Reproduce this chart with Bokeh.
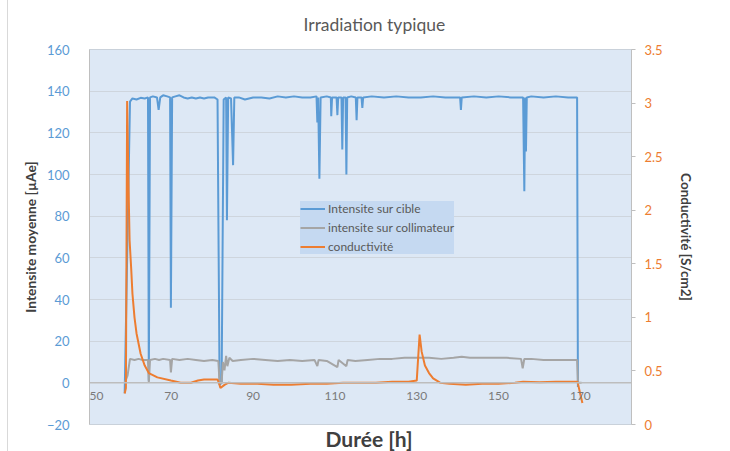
from bokeh.plotting import figure
from bokeh.models import (Range1d, LinearAxis, FixedTicker, Span, Legend, LegendItem,
                          Label, Title)
from bokeh.embed import file_html
from bokeh.resources import INLINE

# ---------------- data ----------------
title_text = "Irradiation typique"
x_label = "Durée [h]"
y_left_label = "Intensite moyenne [µAe]"
y_right_label = "Conductivité [S/cm2]"

x_ticks = [50, 70, 90, 110, 130, 150, 170]
y_left_ticks = [-20, 0, 20, 40, 60, 80, 100, 120, 140, 160]
y_right_ticks = [0, 0.5, 1, 1.5, 2, 2.5, 3, 3.5]
y_right_tick_labels = ["0", "0.5", "1", "1.5", "2", "2.5", "3", "3.5"]

# Intensite sur cible
cible_t = [58.6, 59.9, 60.5, 61.5, 62.5, 63.5, 64.3, 64.5, 64.8, 65.5, 66.5, 66.9, 67.3, 68.0,
           69.0, 69.7, 69.9, 70.2, 71.0, 72.0, 73.0, 74.0, 75.0, 76.0, 77.0, 78.0, 79.0, 80.5,
           81.3, 81.8, 82.3, 82.8, 83.4, 83.6, 83.9, 84.6, 85.1, 85.4, 86.5, 88.0, 90.0, 92.0,
           94.0, 96.0, 98.0, 100.0, 102.0, 104.0, 105.5, 105.7, 105.9, 106.2, 106.5, 108.0,
           109.0, 109.1, 109.3, 110.4, 110.6, 110.8, 111.6, 111.8, 112.0, 112.6, 112.8, 113.0,
           114.0, 115.1, 115.3, 115.5, 116.5, 116.7, 116.9, 119.0, 122.0, 125.0, 128.0, 131.0,
           134.0, 137.0, 140.6, 140.8, 141.0, 144.0, 147.0, 150.0, 153.0, 156.0, 156.3, 156.5,
           156.7, 156.9, 158.0, 161.0, 164.0, 167.0, 169.2, 169.4]
cible_v = [-5, 135, 136.5, 136, 136.8, 136.5, 137, 1, 137, 137.5, 137, 131, 137, 138,
           137.5, 137, 36, 137, 137.5, 138, 137, 136.5, 137, 136.5, 137, 136.5, 137, 137,
           136, -1, 0, 136, 137, 78, 137, 136.5, 104.5, 137, 137, 136, 137, 137,
           136.5, 137.5, 137, 137.5, 137, 137, 137.5, 125, 137, 98, 137, 137.5,
           137, 128, 137, 137, 128.5, 137, 137, 112, 137, 137, 100, 137,
           137.5, 137, 126, 137, 137, 132, 137, 137.5, 137, 137.5, 137, 137,
           137.5, 137, 137, 131, 137, 137.5, 137, 137.5, 137, 137, 92, 137,
           111, 137, 137.5, 137, 137.5, 137, 137, -2]

# intensite sur collimateur
colli_t = [58.6, 59.3, 59.9, 61.0, 62.0, 63.0, 64.3, 64.5, 64.8, 66.0, 67.0, 68.0, 69.7, 69.9,
           70.2, 72.0, 74.0, 76.0, 78.0, 80.0, 81.5, 81.8, 82.3, 82.6, 83.0, 83.4, 83.7, 84.2,
           85.0, 87.0, 90.0, 93.0, 96.0, 99.0, 102.0, 105.0, 105.7, 106.0, 108.0, 110.6, 110.9,
           112.8, 113.1, 115.0, 118.0, 121.0, 124.0, 127.0, 130.0, 133.0, 136.0, 139.0, 141.0,
           143.0, 146.0, 149.0, 152.0, 155.5, 155.9, 156.3, 158.0, 161.0, 164.0, 167.0, 169.2,
           169.4, 170.3]
colli_v = [0, 3.5, 11.5, 11, 11.5, 11, 11, 0, 11, 11.5, 11, 11.5, 11, 5,
           11.5, 11, 11.5, 11, 10.5, 11, 10.5, 0, 0, 10, 6, 13, 8, 12,
           10.5, 11, 11.5, 11, 10.5, 11, 10.5, 11, 8, 11, 10.5, 7.5, 11,
           8, 11, 10.5, 11, 11.5, 11.5, 12, 12, 12, 11.5, 12, 12.5,
           12, 12, 12, 12, 11.5, 7, 11.5, 11.5, 11, 11, 11, 11,
           0, 0]

# conductivite
cond_t = [58.6, 58.9, 59.2, 59.5, 59.8, 60.2, 60.5, 61.0, 61.5, 62.5, 63.5, 64.5, 66.6, 69.9,
          72.3, 74.8, 76.5, 78.0, 81.3, 81.7, 82.0, 83.0, 84.0, 87.0, 91.0, 95.0, 99.3, 104.0,
          108.0, 112.0, 116.0, 120.0, 124.0, 128.0, 130.0, 130.7, 131.2, 132.0, 133.0, 134.0,
          135.7, 138.0, 142.0, 146.0, 150.0, 154.0, 156.0, 160.0, 164.0, 169.3, 170.0, 170.5]
cond_v = [0.29, 0.34, 3.02, 2.3, 1.72, 1.45, 1.22, 1.0, 0.85, 0.66, 0.55, 0.48, 0.44, 0.41,
          0.39, 0.39, 0.41, 0.42, 0.42, 0.38, 0.34, 0.37, 0.39, 0.38, 0.38, 0.37, 0.37, 0.38,
          0.38, 0.39, 0.39, 0.39, 0.40, 0.40, 0.41, 0.84, 0.68, 0.55, 0.48, 0.43,
          0.39, 0.38, 0.37, 0.38, 0.38, 0.39, 0.40, 0.395, 0.40, 0.40, 0.28, 0.20]

legend_labels = ["Intensite sur cible", "intensite sur collimateur", "conductivité"]

# ---------------- style ----------------
FONT = "Lato"
BLUE = "#5B9BD5"
GRAY = "#A5A5A5"
ORANGE = "#ED7D31"
TXT = "#595959"
DARK = "#404040"
X_START = 50

p = figure(width=722, height=451, output_backend="svg", toolbar_location=None,
           x_range=Range1d(X_START, 182.5), y_range=Range1d(-20, 160),
           x_axis_location=None,
           min_border_left=81, min_border_right=99, min_border_top=49, min_border_bottom=27)
p.styles = {"margin-left": "7px", "border-left": "1px solid #D9D9D9"}

p.background_fill_color = "#DDE8F5"
p.border_fill_color = "white"
p.outline_line_color = "#C9D1DA"

p.title.text = title_text
p.title.align = "left"
p.title.vertical_align = "top"
p.title.offset = 214
p.title.standoff = 25
p.title.text_font = FONT
p.title.text_font_size = "17.5px"
p.title.text_font_style = "normal"
p.title.text_color = TXT

xtitle = Title(text=x_label, align="left", vertical_align="middle", offset=236, standoff=0,
               text_font=FONT, text_font_size="21px", text_font_style="bold",
               text_color=DARK)
p.add_layout(xtitle, "below")
p.xgrid.visible = False

# left axis
p.yaxis.ticker = FixedTicker(ticks=y_left_ticks)
p.yaxis.axis_line_color = "#BFBFBF"
p.yaxis.major_tick_line_color = None
p.yaxis.minor_tick_line_color = None
p.yaxis.major_label_text_font = FONT
p.yaxis.major_label_text_font_size = "13px"
p.yaxis.major_label_text_color = BLUE
p.yaxis.major_label_standoff = 14
p.yaxis.axis_label = y_left_label
p.yaxis.axis_label_text_font = FONT
p.yaxis.axis_label_text_font_size = "13.8px"
p.yaxis.axis_label_text_font_style = "bold"
p.yaxis.axis_label_text_color = DARK
p.yaxis.axis_label_standoff = 5

p.ygrid.ticker = FixedTicker(ticks=y_left_ticks)
p.ygrid.grid_line_color = "#CED5DD"
p.ygrid.grid_line_width = 1

p.add_layout(Span(location=0, dimension="width", line_color="#BDBDBD", line_width=1.5))

# right axis
p.extra_y_ranges = {"cond": Range1d(0, 3.5)}
ax_r = LinearAxis(y_range_name="cond", ticker=FixedTicker(ticks=y_right_ticks),
                  major_label_overrides={t: s for t, s in zip(y_right_ticks, y_right_tick_labels)})
ax_r.axis_line_color = "#BFBFBF"
ax_r.major_tick_line_color = "#BFBFBF"
ax_r.major_tick_out = 4
ax_r.major_tick_in = 0
ax_r.minor_tick_line_color = None
ax_r.major_label_text_font = FONT
ax_r.major_label_text_font_size = "13px"
ax_r.major_label_text_color = ORANGE
ax_r.major_label_standoff = 9
ax_r.axis_label = y_right_label
ax_r.axis_label_text_font = FONT
ax_r.axis_label_text_font_size = "13.5px"
ax_r.axis_label_text_font_style = "bold"
ax_r.axis_label_text_color = DARK
ax_r.axis_label_standoff = 12
p.add_layout(ax_r, "right")

r_b = p.line(cible_t, cible_v, line_color=BLUE, line_width=2)
r_g = p.line(colli_t, colli_v, line_color=GRAY, line_width=2)
r_o = p.line(cond_t, cond_v, line_color=ORANGE, line_width=2, y_range_name="cond")

# x tick labels along the zero line (axis crosses at y = 0);
# the first one is left-aligned so it stays inside the plot area
for t in x_ticks:
    p.add_layout(Label(x=t, y=0, text=str(t), text_font=FONT, text_font_size="12px",
                       text_color="#7A7A7A",
                       text_align="left" if t == X_START else "center",
                       text_baseline="middle", y_offset=-13))

legend = Legend(items=[LegendItem(label=legend_labels[0], renderers=[r_b]),
                       LegendItem(label=legend_labels[1], renderers=[r_g]),
                       LegendItem(label=legend_labels[2], renderers=[r_o])],
                location=(211, 170))
legend.background_fill_color = "#C5D9F1"
legend.background_fill_alpha = 1
legend.border_line_color = None
legend.label_text_font = FONT
legend.label_text_font_size = "12px"
legend.label_text_color = TXT
legend.glyph_width = 25
legend.glyph_height = 15
legend.label_height = 15
legend.label_standoff = 3
legend.spacing = 4
legend.padding = 3
legend.margin = 0
p.add_layout(legend)

open("out.html", "w").write(file_html(p, INLINE))
